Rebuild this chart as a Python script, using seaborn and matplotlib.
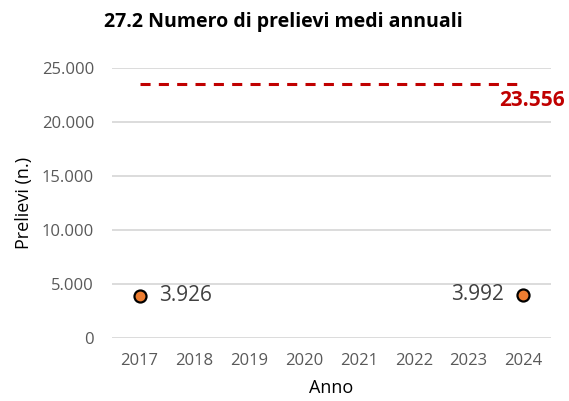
import numpy as np
import pandas as pd
import matplotlib
matplotlib.use("Agg")
import matplotlib.pyplot as plt
import seaborn as sns

# dati
anni = [2017, 2018, 2019, 2020, 2021, 2022, 2023, 2024]
prelievi = [3926, np.nan, np.nan, np.nan, np.nan, np.nan, np.nan, 3992]
riferimento = 23556
y_ticks = [0, 5000, 10000, 15000, 20000, 25000]

sns.set_style("white")
plt.rcParams['font.family'] = ['Open Sans', 'DejaVu Sans']


def fmt(v):
    return f"{v:,.0f}".replace(",", ".")


df = pd.DataFrame({'Anno': anni, 'Prelievi': prelievi})
df_rif = pd.DataFrame({'Anno': [anni[0], anni[-1]], 'Prelievi': [riferimento, riferimento]})

fig = plt.figure(figsize=(5.69, 4.01), dpi=100)
ax = fig.add_axes([0.197, 0.157, 0.771, 0.673])

ax.grid(axis='y', color='#D9D9D9', linewidth=1.3)
ax.set_axisbelow(True)

sns.lineplot(data=df_rif, x='Anno', y='Prelievi', ax=ax, color='#C00000',
             linewidth=2.2, dashes=False, zorder=3)
ax.lines[-1].set_dashes([3.3, 2.7])

sns.scatterplot(data=df.dropna(), x='Anno', y='Prelievi', ax=ax, color='#ED7D31',
                edgecolor='black', linewidth=1.6, s=75, zorder=4)

# etichette
ax.annotate(fmt(prelievi[0]), (anni[0], prelievi[0]), xytext=(14, 0),
            textcoords='offset points', ha='left', va='center',
            fontsize=15, color='#404040')
ax.annotate(fmt(prelievi[-1]), (anni[-1], prelievi[-1]), xytext=(-14, 0),
            textcoords='offset points', ha='right', va='center',
            fontsize=15, color='#404040')
ax.annotate(fmt(riferimento), (anni[-1], riferimento), xytext=(30, -12),
            textcoords='offset points', ha='right', va='center',
            fontsize=15, fontweight='bold', color='#C00000', annotation_clip=False)

ax.set_xlim(anni[0] - 0.5, anni[-1] + 0.5)
ax.set_ylim(0, 25000)
ax.set_xticks(anni)
ax.set_xticklabels([str(a) for a in anni])
ax.set_yticks(y_ticks)
ax.set_yticklabels([fmt(t) for t in y_ticks])
ax.tick_params(axis='both', length=0, labelsize=12, labelcolor='#595959')
ax.tick_params(axis='y', pad=13)
ax.tick_params(axis='x', pad=11)

ax.set_xlabel('Anno', fontsize=13, color='black', labelpad=7)
ax.set_ylabel('Prelievi (n.)', fontsize=13, color='black', labelpad=6)
ax.set_title('27.2 Numero di prelievi medi annuali', fontsize=14, fontweight='bold',
             color='black', pad=30, x=0.39)

sns.despine(ax=ax, left=True, bottom=True)

fig.savefig('out.png', dpi=100)
